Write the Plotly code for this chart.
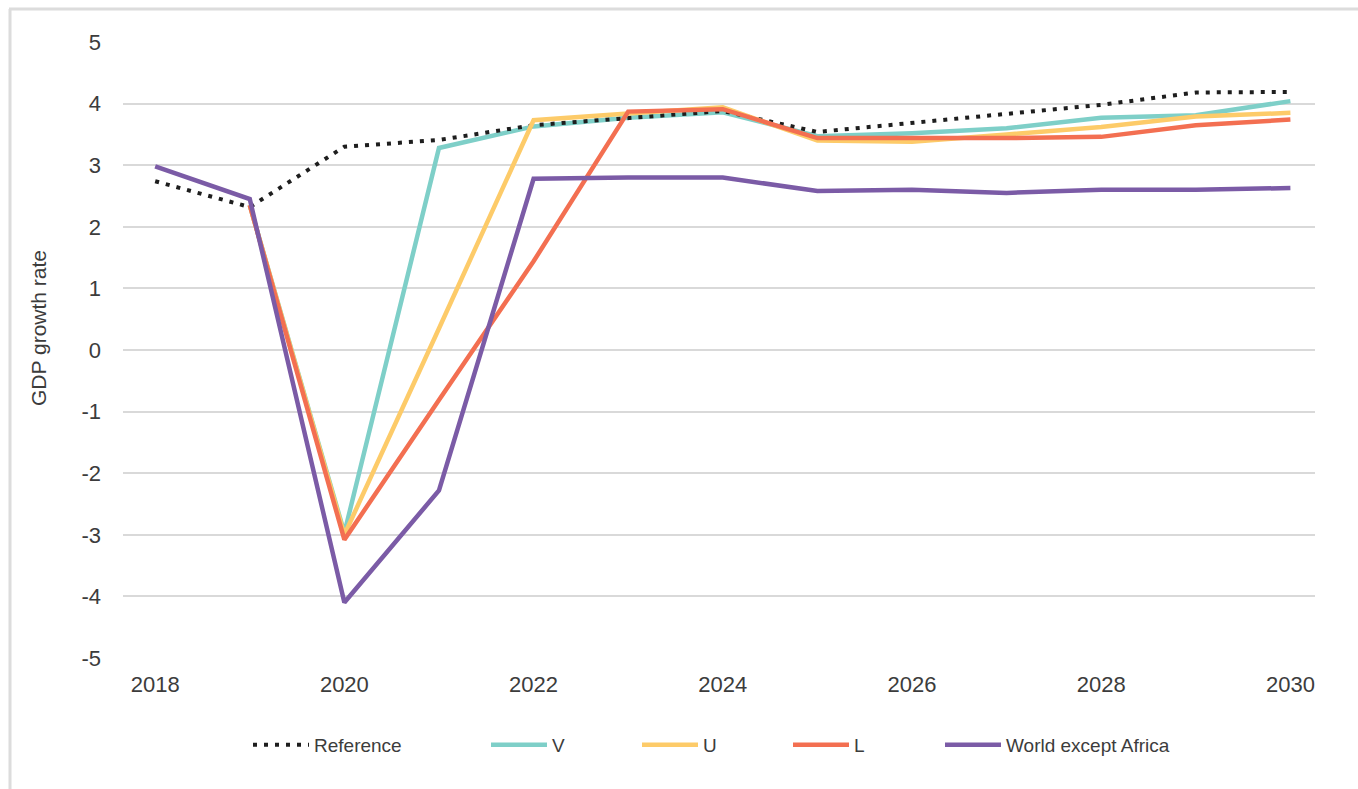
import plotly.graph_objects as go

years = list(range(2018, 2031))
years_scen = list(range(2019, 2031))

reference = [2.74, 2.32, 3.30, 3.41, 3.65, 3.77, 3.88, 3.54, 3.69, 3.83, 3.98, 4.18, 4.19]
v_vals = [2.35, -2.97, 3.28, 3.63, 3.77, 3.86, 3.47, 3.52, 3.60, 3.77, 3.81, 4.04]
u_vals = [2.35, -3.00, 0.35, 3.73, 3.84, 3.94, 3.40, 3.38, 3.50, 3.62, 3.79, 3.85]
l_vals = [2.35, -3.08, -0.81, 1.44, 3.87, 3.91, 3.44, 3.44, 3.44, 3.46, 3.65, 3.74]
world_ex_africa = [2.98, 2.45, -4.10, -2.28, 2.78, 2.80, 2.80, 2.58, 2.60, 2.55, 2.60, 2.60, 2.63]

x_ticks = [2018, 2020, 2022, 2024, 2026, 2028, 2030]
y_ticks = [-5, -4, -3, -2, -1, 0, 1, 2, 3, 4, 5]

TEAL = "#7ECFC8"
YELLOW = "#FDCB69"
ORANGE = "#F36F51"
PURPLE = "#7B5BA6"
DOT = "#1e1e1e"
FONT = "Liberation Sans"
TXT = "#3c3c3c"
LW = 4.5

fig = go.Figure()
fig.add_trace(go.Scatter(x=years_scen, y=v_vals, mode="lines", name="V",
                         line=dict(color=TEAL, width=LW), legend="legend2"))
fig.add_trace(go.Scatter(x=years, y=reference, mode="lines", name="Reference",
                         line=dict(color=DOT, width=4, dash="4px,7px"), legend="legend"))
fig.add_trace(go.Scatter(x=years_scen, y=u_vals, mode="lines", name="U",
                         line=dict(color=YELLOW, width=LW), legend="legend3"))
fig.add_trace(go.Scatter(x=years_scen, y=l_vals, mode="lines", name="L",
                         line=dict(color=ORANGE, width=LW), legend="legend4"))
fig.add_trace(go.Scatter(x=years, y=world_ex_africa, mode="lines", name="World except Africa",
                         line=dict(color=PURPLE, width=LW), legend="legend5"))

L, R, T, B = 123, 43, 42, 131
W, H = 1358, 789
pw = W - L - R
ph = H - T - B

def px2paper_x(px):
    return (px - L) / pw

def px2paper_y(py):
    return (H - B - py) / ph

leg_y = px2paper_y(745)
leg_font = dict(family=FONT, size=19, color=TXT)
leg_common = dict(orientation="h", yanchor="middle", xanchor="left", y=leg_y,
                  font=leg_font, itemwidth=56, bgcolor="rgba(0,0,0,0)",
                  itemclick=False, itemdoubleclick=False)
symbol_starts = [252, 490, 641, 792, 944]
legends = {}
for i, sx in enumerate(symbol_starts):
    key = "legend" if i == 0 else f"legend{i+1}"
    legends[key] = dict(leg_common, x=px2paper_x(sx - 4))

fig.update_layout(
    width=W, height=H,
    margin=dict(l=L, r=R, t=T, b=B, autoexpand=False),
    paper_bgcolor="white", plot_bgcolor="white",
    font=dict(family=FONT, color=TXT),
    showlegend=True,
    xaxis=dict(range=[2017.66, 2030.26], tickvals=x_ticks, ticktext=[str(v) for v in x_ticks],
               showgrid=False, zeroline=False, showline=False, ticks="",
               tickfont=dict(family=FONT, size=22, color=TXT), ticklabelstandoff=11),
    yaxis=dict(range=[-5, 5], tickvals=y_ticks, ticktext=[str(v) for v in y_ticks],
               showgrid=True, gridcolor="#d9d9d9", gridwidth=1.5, zeroline=False,
               showline=False, ticks="",
               tickfont=dict(family=FONT, size=22, color=TXT), ticklabelstandoff=21),
    **legends,
)

fig.add_annotation(text="GDP growth rate", xref="paper", yref="paper",
                   x=px2paper_x(38), y=px2paper_y(328), textangle=-90,
                   showarrow=False, xanchor="center", yanchor="middle",
                   font=dict(family=FONT, size=21, color=TXT))

# outer frame (left and top edges)
fig.add_shape(type="line", xref="paper", yref="paper",
              x0=px2paper_x(10), x1=px2paper_x(10), y0=px2paper_y(9), y1=px2paper_y(800),
              line=dict(color="#dcdcdc", width=3))
fig.add_shape(type="line", xref="paper", yref="paper",
              x0=px2paper_x(9), x1=px2paper_x(1400), y0=px2paper_y(9), y1=px2paper_y(9),
              line=dict(color="#dcdcdc", width=3))

fig.write_html("out.html", post_script="document.body.style.margin='0';",
               config={"displayModeBar": False})
